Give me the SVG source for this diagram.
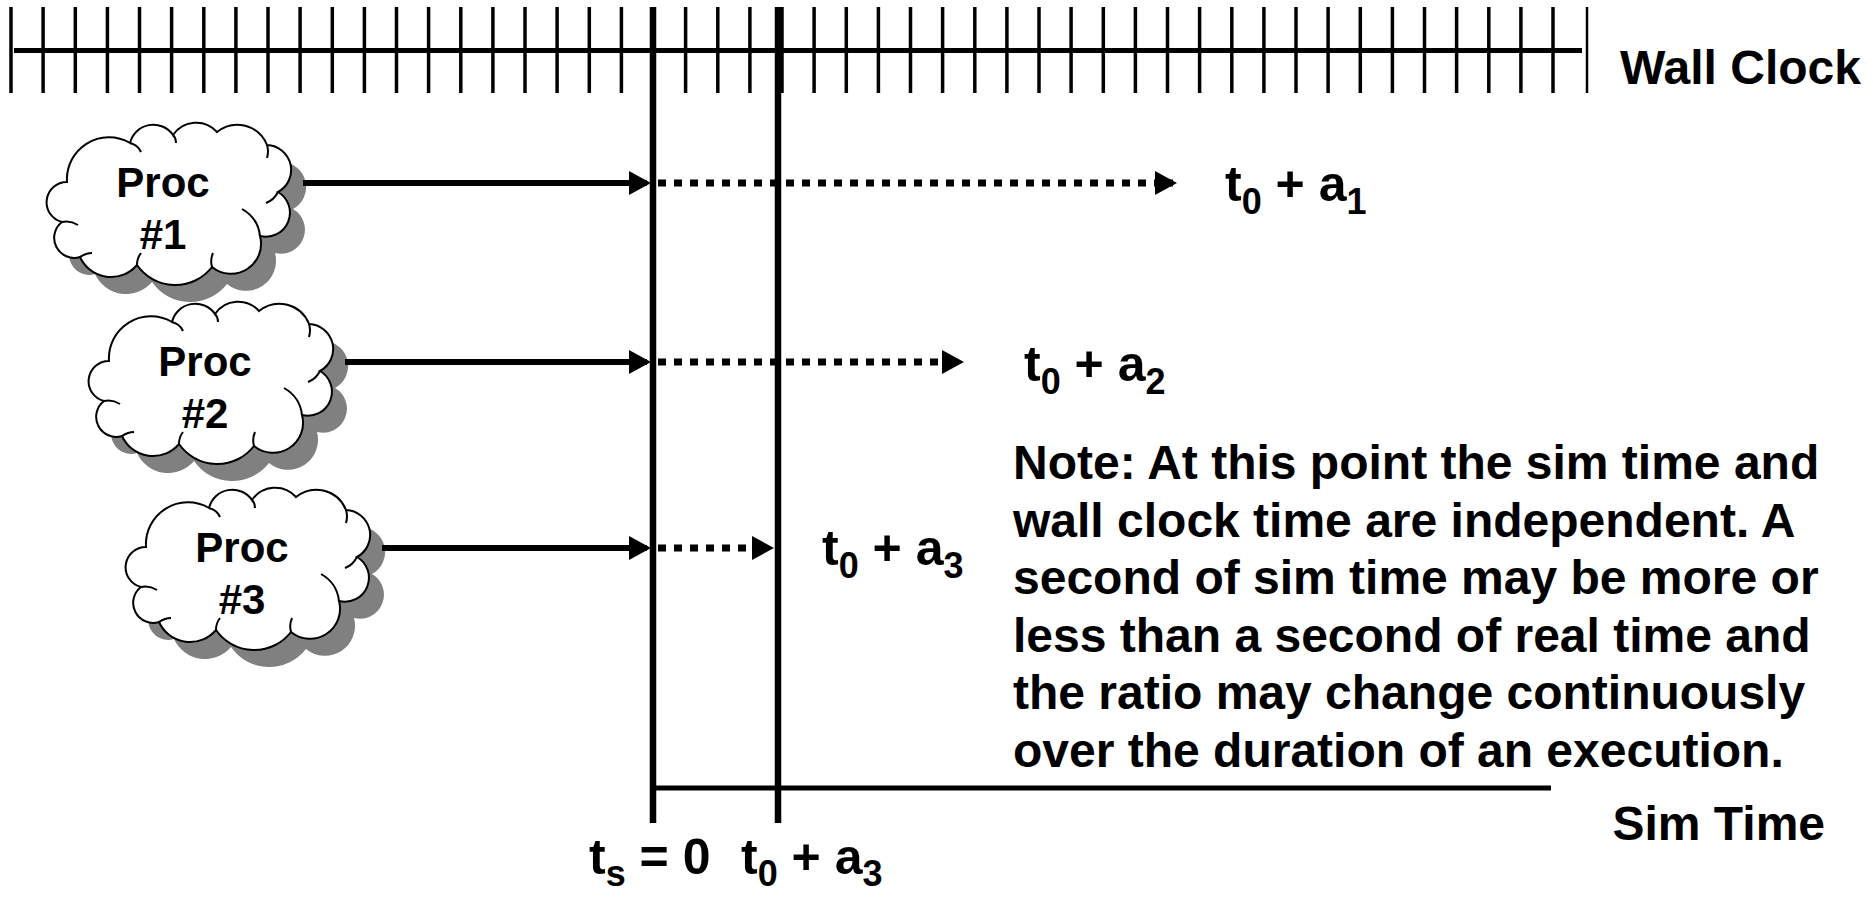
<svg xmlns="http://www.w3.org/2000/svg" xmlns:xlink="http://www.w3.org/1999/xlink" width="1873" height="898" viewBox="0 0 1873 898">
<style>
  text { font-family: "Liberation Sans", Arial, sans-serif; font-weight: bold; fill: #000; }
  .big { font-size: 48px; }
  .lbl { font-size: 50px; }
  .proc { font-size: 42px; text-anchor: middle; }
  .sub { font-size: 36px; }
  .tick { stroke: #000; stroke-width: 3.5; }
  .axis { stroke: #000; stroke-width: 5; fill: none; }
  .vline { stroke: #000; stroke-width: 6.5; }
  .solid { stroke: #000; stroke-width: 6; fill: none; }
  .dotted { stroke: #000; stroke-width: 7; fill: none; stroke-dasharray: 8 8; }
  .cloud { fill: #fff; stroke: #000; stroke-width: 2; }
  .shadow { fill: #808080; stroke: none; }
  .inner { fill: none; stroke: #000; stroke-width: 2; }
</style>
<defs>
  <marker id="ah" markerUnits="userSpaceOnUse" markerWidth="24" markerHeight="26" refX="18" refY="12" orient="auto" viewBox="0 0 24 26">
    <path d="M0,0 L22,12 L0,24 Z" fill="#000"/>
  </marker>
  <path id="cloudShape" d="M21,58 A42,42 0 0 1 84,19 A24,24 0 0 1 127,11 A28,28 0 0 1 171,8 A32,32 0 0 1 221,21 A25,25 0 0 1 232,68 A24,24 0 0 1 214,112 A30,30 0 0 1 166,143 A46.5,46.5 0 0 1 91,141 A34,34 0 0 1 34,133 A20,20 0 0 1 16,98 A20.3,20.3 0 0 1 21,58 Z"/>
  <path id="cloudInner" d="M16,98 q8,-2 16,3 M84,19 q8,2 11,9 M127,11 q3,3 3,8 M221,21 q2,6 0,13 M232,68 q-4,8 -12,11 M214,112 q-2,-18 -18,-27 M166,143 q-2,-7 1,-14 M91,141 q0,-7 4,-12 M34,133 q6,-4 12,-4"/>
</defs>
<rect width="1873" height="898" fill="#fff"/>

<g id="wall-clock">
  <line class="axis" x1="14" y1="50.5" x2="1582" y2="50.5"/>
  <g class="ticks">
    <line class="tick" x1="11" y1="7" x2="11" y2="93"/>
    <line class="tick" x1="43.1" y1="7" x2="43.1" y2="93"/>
    <line class="tick" x1="75.3" y1="7" x2="75.3" y2="93"/>
    <line class="tick" x1="107.4" y1="7" x2="107.4" y2="93"/>
    <line class="tick" x1="139.5" y1="7" x2="139.5" y2="93"/>
    <line class="tick" x1="171.6" y1="7" x2="171.6" y2="93"/>
    <line class="tick" x1="203.8" y1="7" x2="203.8" y2="93"/>
    <line class="tick" x1="235.9" y1="7" x2="235.9" y2="93"/>
    <line class="tick" x1="268" y1="7" x2="268" y2="93"/>
    <line class="tick" x1="300.1" y1="7" x2="300.1" y2="93"/>
    <line class="tick" x1="332.3" y1="7" x2="332.3" y2="93"/>
    <line class="tick" x1="364.4" y1="7" x2="364.4" y2="93"/>
    <line class="tick" x1="396.5" y1="7" x2="396.5" y2="93"/>
    <line class="tick" x1="428.6" y1="7" x2="428.6" y2="93"/>
    <line class="tick" x1="460.8" y1="7" x2="460.8" y2="93"/>
    <line class="tick" x1="492.9" y1="7" x2="492.9" y2="93"/>
    <line class="tick" x1="525" y1="7" x2="525" y2="93"/>
    <line class="tick" x1="557.1" y1="7" x2="557.1" y2="93"/>
    <line class="tick" x1="589.3" y1="7" x2="589.3" y2="93"/>
    <line class="tick" x1="621.4" y1="7" x2="621.4" y2="93"/>
    <line class="tick" x1="653.5" y1="7" x2="653.5" y2="93"/>
    <line class="tick" x1="685.6" y1="7" x2="685.6" y2="93"/>
    <line class="tick" x1="717.8" y1="7" x2="717.8" y2="93"/>
    <line class="tick" x1="749.9" y1="7" x2="749.9" y2="93"/>
    <line class="tick" x1="782" y1="7" x2="782" y2="93"/>
    <line class="tick" x1="814.1" y1="7" x2="814.1" y2="93"/>
    <line class="tick" x1="846.3" y1="7" x2="846.3" y2="93"/>
    <line class="tick" x1="878.4" y1="7" x2="878.4" y2="93"/>
    <line class="tick" x1="910.5" y1="7" x2="910.5" y2="93"/>
    <line class="tick" x1="942.6" y1="7" x2="942.6" y2="93"/>
    <line class="tick" x1="974.8" y1="7" x2="974.8" y2="93"/>
    <line class="tick" x1="1006.9" y1="7" x2="1006.9" y2="93"/>
    <line class="tick" x1="1039" y1="7" x2="1039" y2="93"/>
    <line class="tick" x1="1071.1" y1="7" x2="1071.1" y2="93"/>
    <line class="tick" x1="1103.3" y1="7" x2="1103.3" y2="93"/>
    <line class="tick" x1="1135.4" y1="7" x2="1135.4" y2="93"/>
    <line class="tick" x1="1167.5" y1="7" x2="1167.5" y2="93"/>
    <line class="tick" x1="1199.6" y1="7" x2="1199.6" y2="93"/>
    <line class="tick" x1="1231.8" y1="7" x2="1231.8" y2="93"/>
    <line class="tick" x1="1263.9" y1="7" x2="1263.9" y2="93"/>
    <line class="tick" x1="1296" y1="7" x2="1296" y2="93"/>
    <line class="tick" x1="1328.1" y1="7" x2="1328.1" y2="93"/>
    <line class="tick" x1="1360.3" y1="7" x2="1360.3" y2="93"/>
    <line class="tick" x1="1392.4" y1="7" x2="1392.4" y2="93"/>
    <line class="tick" x1="1424.5" y1="7" x2="1424.5" y2="93"/>
    <line class="tick" x1="1456.6" y1="7" x2="1456.6" y2="93"/>
    <line class="tick" x1="1488.8" y1="7" x2="1488.8" y2="93"/>
    <line class="tick" x1="1520.9" y1="7" x2="1520.9" y2="93"/>
    <line class="tick" x1="1553" y1="7" x2="1553" y2="93"/>
    <line x1="1587" y1="7" x2="1587" y2="93" stroke="#000" stroke-width="2.5"/>
  </g>
  <text class="big" x="1620" y="84">Wall Clock</text>
</g>

<g id="sim-time">
  <line class="vline" x1="653" y1="7" x2="653" y2="823"/>
  <line class="vline" x1="778" y1="7" x2="778" y2="823"/>
  <line class="axis" x1="653" y1="788" x2="1551" y2="788"/>
  <text class="big" x="1825" y="840" text-anchor="end">Sim Time</text>
  <text class="lbl" x="589" y="874">t<tspan class="sub" dy="12">s</tspan><tspan dy="-12"> = 0</tspan></text>
  <text class="lbl" x="741" y="874">t<tspan class="sub" dy="12">0</tspan><tspan dy="-12"> + a</tspan><tspan class="sub" dy="12">3</tspan></text>
</g>

<g id="proc1">
  <use xlink:href="#cloudShape" href="#cloudShape" class="shadow" transform="translate(61,141)"/>
  <use xlink:href="#cloudShape" href="#cloudShape" class="cloud" transform="translate(46,124)"/>
  <use xlink:href="#cloudInner" href="#cloudInner" class="inner" transform="translate(46,124)"/>
  <text class="proc" x="163" y="197">Proc</text>
  <text class="proc" x="163" y="249">#1</text>
</g>

<g id="proc2">
  <use xlink:href="#cloudShape" href="#cloudShape" class="shadow" transform="translate(103,320)"/>
  <use xlink:href="#cloudShape" href="#cloudShape" class="cloud" transform="translate(88,303)"/>
  <use xlink:href="#cloudInner" href="#cloudInner" class="inner" transform="translate(88,303)"/>
  <text class="proc" x="205" y="376">Proc</text>
  <text class="proc" x="205" y="428">#2</text>
</g>

<g id="proc3">
  <use xlink:href="#cloudShape" href="#cloudShape" class="shadow" transform="translate(140,506)"/>
  <use xlink:href="#cloudShape" href="#cloudShape" class="cloud" transform="translate(125,489)"/>
  <use xlink:href="#cloudInner" href="#cloudInner" class="inner" transform="translate(125,489)"/>
  <text class="proc" x="242" y="562">Proc</text>
  <text class="proc" x="242" y="614">#3</text>
</g>

<g id="connectors">
  <line class="solid" x1="303" y1="183" x2="647" y2="183" marker-end="url(#ah)"/>
  <line class="dotted" x1="658" y1="183" x2="1173" y2="183" marker-end="url(#ah)"/>
  <line class="solid" x1="345" y1="362" x2="647" y2="362" marker-end="url(#ah)"/>
  <line class="dotted" x1="658" y1="362" x2="960" y2="362" marker-end="url(#ah)"/>
  <line class="solid" x1="382" y1="548" x2="647" y2="548" marker-end="url(#ah)"/>
  <line class="dotted" x1="658" y1="548" x2="770" y2="548" marker-end="url(#ah)"/>
</g>

<g id="labels">
  <text class="lbl" x="1225" y="201">t<tspan class="sub" dy="13">0</tspan><tspan dy="-13"> + a</tspan><tspan class="sub" dy="13">1</tspan></text>
  <text class="lbl" x="1024" y="381">t<tspan class="sub" dy="13">0</tspan><tspan dy="-13"> + a</tspan><tspan class="sub" dy="13">2</tspan></text>
  <text class="lbl" x="822" y="565">t<tspan class="sub" dy="13">0</tspan><tspan dy="-13"> + a</tspan><tspan class="sub" dy="13">3</tspan></text>
</g>

<g id="note">
  <text class="big" x="1013" y="479">Note: At this point the sim time and</text>
  <text class="big" x="1013" y="536.5">wall clock time are independent. A</text>
  <text class="big" x="1013" y="594">second of sim time may be more or</text>
  <text class="big" x="1013" y="651.5">less than a second of real time and</text>
  <text class="big" x="1013" y="709">the ratio may change continuously</text>
  <text class="big" x="1013" y="766.5">over the duration of an execution.</text>
</g>
</svg>
